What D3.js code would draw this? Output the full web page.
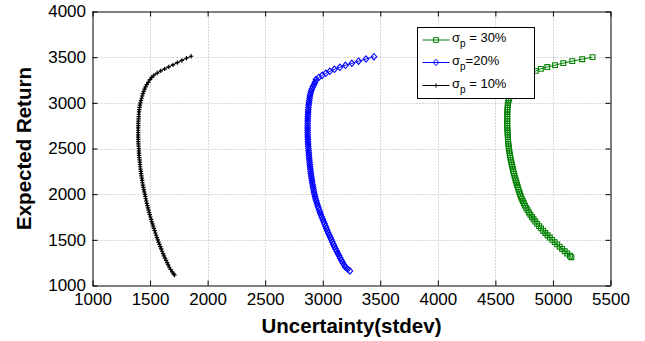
<!DOCTYPE html>
<html><head><meta charset="utf-8">
<script src="https://cdnjs.cloudflare.com/ajax/libs/d3/7.8.5/d3.min.js"></script>
<style>body{margin:0;background:#fff} svg{display:block}</style>
</head><body>
<svg id="c" width="645" height="341"></svg>
<script>
const xTicks = [1000,1500,2000,2500,3000,3500,4000,4500,5000,5500];
const yTicks = [1000,1500,2000,2500,3000,3500,4000];

// sigma_p = 30% (green, squares)
const risk30 = [5344,5254,5168,5090,5018,4951,4895,4851,4802,4761,4723,4692,
  4678,4666,4655,4645,4638,4632,4626,4620,4615,4610,
  4608,4606,4605,4604,4603,4603,4603,4603,4603,4603,4604,4605,4606,4607,4608,4609,4611,4613,4615,4617,
  4620,4623,4627,4630,4634,4638,4643,4647,4652,4656,4661,4666,4672,4677,4683,4689,4695,4701,4708,4714,
  4721,4729,4738,4747,4757,4768,4779,4791,4804,4818,4832,4847,4863,4880,4897,4915,4934,4953,4973,4994,
  5015,5037,5058,5080,5102,5124,5147,5160];
const ret30 = [3500,3478,3457,3435,3413,3392,3372,3350,3323,3300,3277,3254,
  3225,3200,3175,3150,3125,3100,3075,3050,3025,3000,
  2975,2950,2925,2900,2875,2850,2825,2800,2775,2750,2725,2700,2675,2650,2625,2600,2575,2550,2525,2500,
  2475,2450,2425,2400,2375,2350,2325,2300,2275,2250,2225,2200,2175,2150,2125,2100,2075,2050,2025,2000,
  1975,1950,1925,1900,1875,1850,1825,1800,1775,1750,1725,1700,1675,1650,1625,1600,1575,1550,1525,1500,
  1475,1450,1425,1400,1375,1350,1325,1310];

// sigma_p = 20% (blue, diamonds)
const risk20 = [3445,3376,3311,3253,3198,3149,3102,3062,3027,2995,2966,2942,
  2933,2925,2914,2905,2898,2893,2889,2886,2883,2880,
  2878,2876,2874,2873,2872,2871,2870,2870,2869,2869,2869,2869,2869,2870,2870,2871,2872,2873,2874,2876,
  2877,2879,2880,2882,2884,2886,2888,2890,2892,2895,2897,2900,2903,2906,2909,2913,2916,2920,2924,2928,
  2933,2938,2944,2950,2956,2963,2970,2977,2984,2992,3000,3008,3016,3024,3032,3040,3048,3057,3066,3075,
  3084,3093,3102,3112,3122,3132,3142,3152,3163,3174,3186,3198,3216,3236];
const ret20 = [3505,3480,3456,3433,3411,3389,3367,3345,3323,3301,3278,3255,
  3225,3200,3175,3150,3125,3100,3075,3050,3025,3000,
  2975,2950,2925,2900,2875,2850,2825,2800,2775,2750,2725,2700,2675,2650,2625,2600,2575,2550,2525,2500,
  2475,2450,2425,2400,2375,2350,2325,2300,2275,2250,2225,2200,2175,2150,2125,2100,2075,2050,2025,2000,
  1975,1950,1925,1900,1875,1850,1825,1800,1775,1750,1725,1700,1675,1650,1625,1600,1575,1550,1525,1500,
  1475,1450,1425,1400,1375,1350,1325,1300,1275,1250,1225,1200,1180,1160];

// sigma_p = 10% (black, dots)
const risk10 = [1857,1816,1776,1737,1699,1662,1627,1593,1562,1533,1514,1499,
  1484,1471,1461,1452,1445,1438,1432,1427,1421,1416,
  1412,1409,1406,1404,1402,1401,1400,1399,1398,1398,1397,1397,1397,1397,1397,1398,1398,1399,1400,1402,
  1403,1404,1405,1407,1409,1411,1413,1415,1417,1420,1422,1425,1428,1431,1434,1438,1442,1446,1450,1455,
  1459,1463,1467,1472,1477,1482,1487,1492,1497,1503,1509,1515,1521,1527,1533,1540,1546,1553,1560,1567,
  1574,1582,1589,1597,1605,1613,1621,1630,1639,1648,1657,1667,1679,1692,1706,1713];
const ret10 = [3510,3488,3464,3440,3416,3394,3372,3350,3326,3302,3278,3254,
  3225,3200,3175,3150,3125,3100,3075,3050,3025,3000,
  2975,2950,2925,2900,2875,2850,2825,2800,2775,2750,2725,2700,2675,2650,2625,2600,2575,2550,2525,2500,
  2475,2450,2425,2400,2375,2350,2325,2300,2275,2250,2225,2200,2175,2150,2125,2100,2075,2050,2025,2000,
  1975,1950,1925,1900,1875,1850,1825,1800,1775,1750,1725,1700,1675,1650,1625,1600,1575,1550,1525,1500,
  1475,1450,1425,1400,1375,1350,1325,1300,1275,1250,1225,1200,1175,1150,1125,1115];

const legendSigma = ["σ","σ","σ"];
const legendSub = ["p","p","p"];
const legendRest = [" = 30%","=20%"," = 10%"];
const xLabel = "Uncertainty(stdev)";
const yLabel = "Expected Return";

const FONT = "'Liberation Sans', Arial, Helvetica, sans-serif";
const svg = d3.select("#c");
const m = {l:92.5, r:610.5, t:11.5, b:285.5};
const x = d3.scaleLinear().domain([1000,5500]).range([m.l, m.r]);
const y = d3.scaleLinear().domain([1000,4000]).range([m.b, m.t]);

// grid
const grid = svg.append("g").attr("stroke","#b0b0b0").attr("stroke-width",1).attr("stroke-dasharray","1,2");
grid.selectAll(".gx").data(xTicks.slice(1,-1)).join("line")
  .attr("x1",d=>Math.round(x(d))+0.5).attr("x2",d=>Math.round(x(d))+0.5).attr("y1",m.t).attr("y2",m.b);
grid.selectAll(".gy").data(yTicks.slice(1,-1)).join("line")
  .attr("y1",d=>Math.round(y(d))+0.5).attr("y2",d=>Math.round(y(d))+0.5).attr("x1",m.l).attr("x2",m.r);

// axes
function styleAxis(g){
  g.selectAll("path").attr("stroke","#000").attr("stroke-width",1);
  g.selectAll("line").attr("stroke","#000").attr("stroke-width",1);
  g.selectAll("text").attr("font-family",FONT).attr("font-size","17px").attr("fill","#000");
}
svg.append("g").attr("transform",`translate(0,${m.b})`)
  .call(d3.axisBottom(x).tickValues(xTicks).tickFormat(d3.format("d")).tickSizeInner(-5).tickSizeOuter(0).tickPadding(7.5))
  .call(styleAxis);
svg.append("g").attr("transform",`translate(0,${m.t})`)
  .call(d3.axisTop(x).tickValues(xTicks).tickFormat("").tickSizeInner(-5).tickSizeOuter(0))
  .call(styleAxis);
svg.append("g").attr("transform",`translate(${m.l},0)`)
  .call(d3.axisLeft(y).tickValues(yTicks).tickFormat(d3.format("d")).tickSizeInner(-5).tickSizeOuter(0).tickPadding(6.5))
  .call(styleAxis);
svg.append("g").attr("transform",`translate(${m.r},0)`)
  .call(d3.axisRight(y).tickValues(yTicks).tickFormat("").tickSizeInner(-5).tickSizeOuter(0))
  .call(styleAxis);

// axis labels
svg.append("text").attr("x",(m.l+m.r)/2).attr("y",333).attr("text-anchor","middle")
  .attr("font-family",FONT).attr("font-weight","bold").attr("font-size","20.5px").text(xLabel);
svg.append("text").attr("transform",`translate(31,${(m.t+m.b)/2}) rotate(-90)`).attr("text-anchor","middle")
  .attr("font-family",FONT).attr("font-weight","bold").attr("font-size","20.5px").text(yLabel);

// markers
const mk = {
  square: "M-2.4,-2.4H2.4V2.4H-2.4Z",
  diamond: "M0,-3.2L2.8,0L0,3.2L-2.8,0Z",
  plus: "M-2.2,0H2.2M0,-2.2V2.2"
};
const series = [
  {xs:risk30, ys:ret30, color:"#008000", marker:mk.square, sw:1.1},
  {xs:risk20, ys:ret20, color:"#0000ff", marker:mk.diamond, sw:1.1},
  {xs:risk10, ys:ret10, color:"#000000", marker:mk.plus, sw:1.2}
];
const line = d3.line().x(d=>x(d[0])).y(d=>y(d[1]));
series.forEach(s=>{
  const pts = s.xs.map((v,i)=>[v, s.ys[i]]);
  const g = svg.append("g");
  g.append("path").attr("d",line(pts)).attr("fill","none").attr("stroke",s.color).attr("stroke-width",1);
  g.selectAll("path.m").data(pts).join("path").attr("class","m")
    .attr("transform",d=>`translate(${x(d[0])},${y(d[1])})`)
    .attr("d",s.marker).attr("fill","none").attr("stroke",s.color).attr("stroke-width",s.sw);
});

// legend
const lg = svg.append("g");
lg.append("rect").attr("x",417.5).attr("y",27.5).attr("width",117).attr("height",71)
  .attr("fill","#fff").attr("stroke","#000").attr("stroke-width",1);
const rowsY = [40, 62.5, 85.5];
series.forEach((s,i)=>{
  const yy = rowsY[i];
  lg.append("line").attr("x1",422.5).attr("x2",449.5).attr("y1",yy).attr("y2",yy).attr("stroke",s.color).attr("stroke-width",1);
  lg.append("path").attr("transform",`translate(436,${yy})`).attr("d",s.marker).attr("fill","none").attr("stroke",s.color).attr("stroke-width",1);
  const t = lg.append("text").attr("x",452).attr("y",yy+2).attr("font-family",FONT).attr("font-size","13px");
  t.append("tspan").text(legendSigma[i]);
  t.append("tspan").attr("font-size","10px").attr("dy",5).text(legendSub[i]);
  t.append("tspan").attr("dy",-5).text(legendRest[i]);
});
</script>
</body></html>
